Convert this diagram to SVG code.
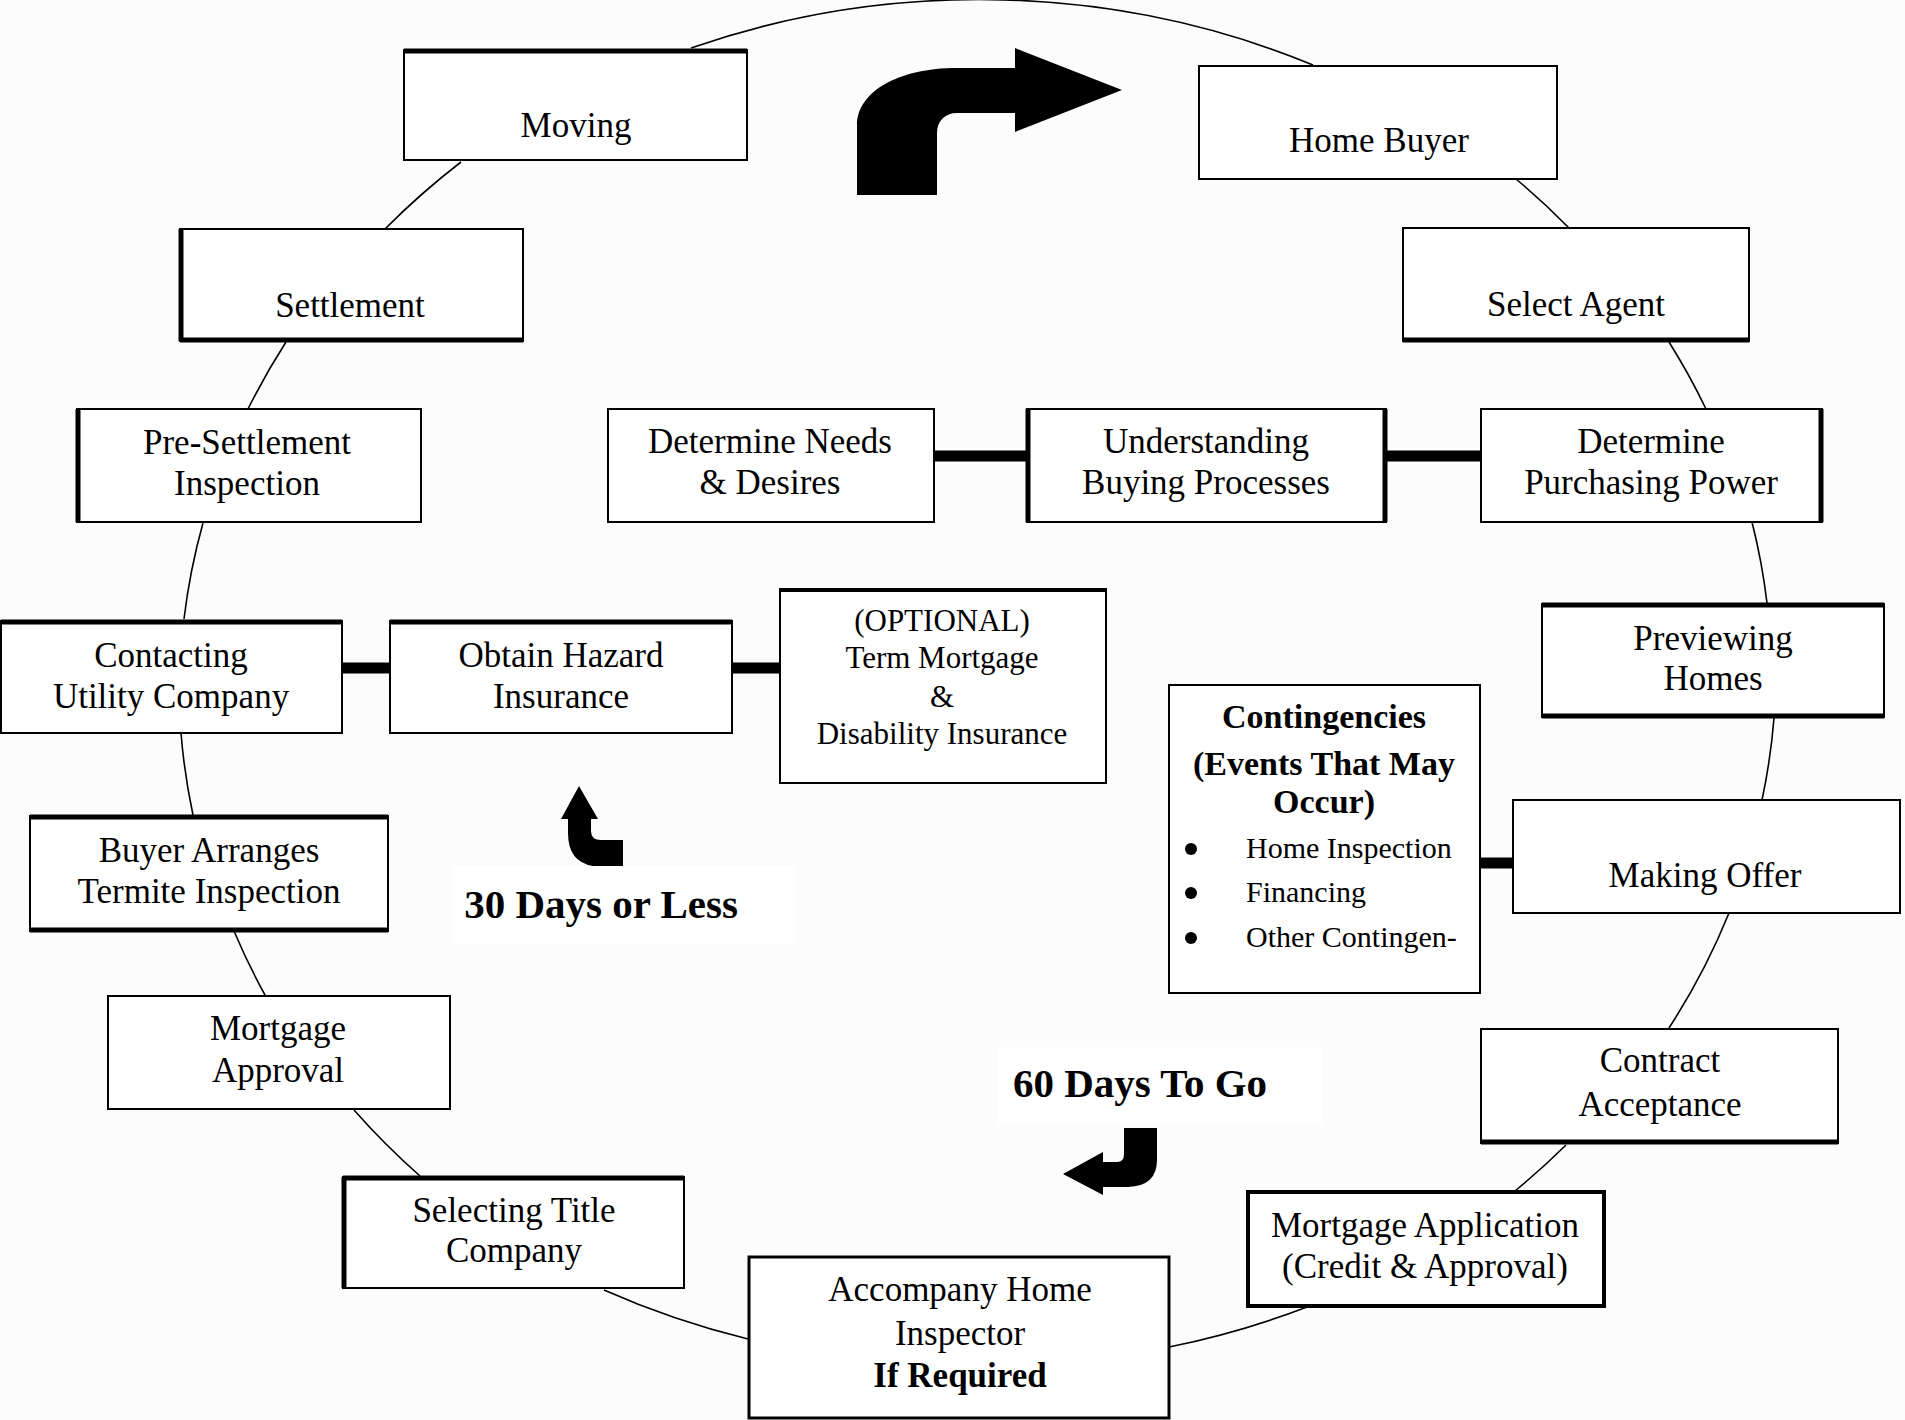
<svg xmlns="http://www.w3.org/2000/svg" width="1905" height="1420" viewBox="0 0 1905 1420">
<style>
.box{fill:#fff;stroke:#000;stroke-width:2}
.thk{stroke:#000;stroke-width:5;fill:none}
.t{font-family:"Liberation Serif","Times New Roman",serif;font-size:35px;text-anchor:middle;fill:#000}
.s{font-size:31px}
.b{font-weight:bold}
.link{fill:none;stroke:#000;stroke-width:1.6}
.bar{fill:none;stroke:#000;stroke-width:11}
.arrow{fill:#000}
</style>
<rect x="0" y="0" width="1905" height="1420" fill="#fcfcfc"/>

<g id="connectors">
<path class="link" d="M691,48 A795,710 0 0,1 1313,65"/>
<path class="link" d="M1516,179 A795,710 0 0,1 1569,228"/>
<path class="link" d="M1669,342 A795,710 0 0,1 1706,409"/>
<path class="link" d="M1752,522 A795,710 0 0,1 1767,603"/>
<path class="link" d="M1774,718 A795,710 0 0,1 1762,800"/>
<path class="link" d="M1729,913 A795,710 0 0,1 1669,1028"/>
<path class="link" d="M1566,1145 A795,710 0 0,1 1515,1191"/>
<path class="link" d="M1307,1307 A795,710 0 0,1 1169,1347"/>
<path class="link" d="M748,1339 A795,710 0 0,1 604,1290"/>
<path class="link" d="M420,1176 A795,710 0 0,1 354,1110"/>
<path class="link" d="M265,995 A795,710 0 0,1 234,931"/>
<path class="link" d="M193,815 A795,710 0 0,1 181,733"/>
<path class="link" d="M184,619 A795,710 0 0,1 203,523"/>
<path class="link" d="M248,409 A795,710 0 0,1 286,342"/>
<path class="link" d="M385,229 A795,710 0 0,1 461,162"/>
<line class="bar" x1="934" y1="456" x2="1027" y2="456"/>
<line class="bar" x1="1386" y1="456" x2="1481" y2="456"/>
<line class="bar" x1="342" y1="668" x2="390" y2="668"/>
<line class="bar" x1="732" y1="668" x2="780" y2="668"/>
<line class="bar" x1="1480" y1="863" x2="1513" y2="863"/>
</g>

<g id="big-arrow">
<path class="arrow" d="M857,195 L857,125 C857,92 898,68 957,68 L1015,68 L1015,48 L1122,90 L1015,132 L1015,113 L957,113 C945,113 937,121 937,133 L937,195 Z"/>
</g>

<g id="label-30">
<rect x="452" y="866" width="344" height="78" fill="#fff"/>
<path class="arrow" d="M579,786 L598,819 L591,819 L591,831 Q591,840 601,840 L623,840 L623,866 L593,866 Q568,862 568,833 L568,819 L561,819 Z"/>
<text class="t b" x="601" y="918" style="font-size:41px">30 Days or Less</text>
</g>

<g id="label-60">
<rect x="998" y="1047" width="324" height="78" fill="#fff"/>
<path class="arrow" d="M1124,1128 L1157,1128 L1157,1160 Q1157,1186 1128,1187 L1103,1187 L1103,1195 L1063,1174 L1103,1152 L1103,1162 L1117,1162 Q1124,1162 1124,1154 Z"/>
<text class="t b" x="1140" y="1097" style="font-size:41px">60 Days To Go</text>
</g>

<g id="moving">
<rect class="box" x="404" y="50" width="343" height="110"/>
<line class="thk" x1="404" y1="51" x2="747" y2="51"/>
<text class="t" x="576" y="137">Moving</text>
</g>

<g id="home-buyer">
<rect class="box" x="1199" y="66" width="358" height="113"/>
<text class="t" x="1379" y="152">Home Buyer</text>
</g>

<g id="settlement">
<rect class="box" x="180" y="229" width="343" height="112"/>
<line class="thk" x1="181" y1="229" x2="181" y2="341"/>
<line class="thk" x1="180" y1="340" x2="523" y2="340"/>
<text class="t" x="350" y="317">Settlement</text>
</g>

<g id="select-agent">
<rect class="box" x="1403" y="228" width="346" height="113"/>
<line class="thk" x1="1403" y1="340" x2="1749" y2="340"/>
<text class="t" x="1576" y="316">Select Agent</text>
</g>

<g id="pre-settlement">
<rect class="box" x="77" y="409" width="344" height="113"/>
<line class="thk" x1="78" y1="409" x2="78" y2="522"/>
<text class="t" x="247" y="454">Pre-Settlement</text>
<text class="t" x="247" y="495">Inspection</text>
</g>

<g id="determine-needs">
<rect class="box" x="608" y="409" width="326" height="113"/>
<text class="t" x="770" y="453">Determine Needs</text>
<text class="t" x="770" y="494">&amp; Desires</text>
</g>

<g id="understanding">
<rect class="box" x="1027" y="409" width="359" height="113"/>
<line class="thk" x1="1028" y1="409" x2="1028" y2="522"/>
<line class="thk" x1="1385" y1="409" x2="1385" y2="522"/>
<text class="t" x="1206" y="453">Understanding</text>
<text class="t" x="1206" y="494">Buying Processes</text>
</g>

<g id="purchasing-power">
<rect class="box" x="1481" y="409" width="341" height="113"/>
<line class="thk" x1="1821" y1="409" x2="1821" y2="522"/>
<text class="t" x="1651" y="453">Determine</text>
<text class="t" x="1651" y="494">Purchasing Power</text>
</g>

<g id="contacting-utility">
<rect class="box" x="1" y="621" width="341" height="112"/>
<line class="thk" x1="1" y1="622" x2="342" y2="622"/>
<text class="t" x="171" y="667">Contacting</text>
<text class="t" x="171" y="708">Utility Company</text>
</g>

<g id="hazard-insurance">
<rect class="box" x="390" y="621" width="342" height="112"/>
<line class="thk" x1="390" y1="622" x2="732" y2="622"/>
<text class="t" x="561" y="667">Obtain Hazard</text>
<text class="t" x="561" y="708">Insurance</text>
</g>

<g id="optional-insurance">
<rect class="box" x="780" y="589" width="326" height="194"/>
<line class="thk" x1="780" y1="590" x2="1106" y2="590" style="stroke-width:4"/>
<text class="t s" x="942" y="631">(OPTIONAL)</text>
<text class="t s" x="942" y="668">Term Mortgage</text>
<text class="t s" x="942" y="707">&amp;</text>
<text class="t s" x="942" y="744">Disability Insurance</text>
</g>

<g id="previewing">
<rect class="box" x="1542" y="604" width="342" height="113"/>
<line class="thk" x1="1542" y1="605" x2="1884" y2="605"/>
<line class="thk" x1="1542" y1="716" x2="1884" y2="716"/>
<text class="t" x="1713" y="650">Previewing</text>
<text class="t" x="1713" y="690">Homes</text>
</g>

<g id="contingencies">
<rect class="box" x="1169" y="685" width="311" height="308"/>
<text class="t b" x="1324" y="728" style="font-size:34px">Contingencies</text>
<text class="t b" x="1324" y="775" style="font-size:34px">(Events That May</text>
<text class="t b" x="1324" y="813" style="font-size:34px">Occur)</text>
<circle cx="1191" cy="849" r="6"/>
<circle cx="1191" cy="893" r="6"/>
<circle cx="1191" cy="938" r="6"/>
<text class="t" x="1246" y="858" style="font-size:30px;text-anchor:start">Home Inspection</text>
<text class="t" x="1246" y="902" style="font-size:30px;text-anchor:start">Financing</text>
<text class="t" x="1246" y="947" style="font-size:30px;text-anchor:start">Other Contingen-</text>
</g>

<g id="making-offer">
<rect class="box" x="1513" y="800" width="387" height="113"/>
<text class="t" x="1705" y="887">Making Offer</text>
</g>

<g id="termite-inspection">
<rect class="box" x="30" y="816" width="358" height="115"/>
<line class="thk" x1="30" y1="817" x2="388" y2="817"/>
<line class="thk" x1="30" y1="930" x2="388" y2="930"/>
<text class="t" x="209" y="862">Buyer Arranges</text>
<text class="t" x="209" y="903">Termite Inspection</text>
</g>

<g id="mortgage-approval">
<rect class="box" x="108" y="996" width="342" height="113"/>
<text class="t" x="278" y="1040">Mortgage</text>
<text class="t" x="278" y="1082">Approval</text>
</g>

<g id="contract-acceptance">
<rect class="box" x="1481" y="1029" width="357" height="114"/>
<line class="thk" x1="1481" y1="1142" x2="1838" y2="1142"/>
<text class="t" x="1660" y="1072">Contract</text>
<text class="t" x="1660" y="1116">Acceptance</text>
</g>

<g id="title-company">
<rect class="box" x="343" y="1177" width="341" height="111"/>
<line class="thk" x1="343" y1="1178" x2="684" y2="1178"/>
<line class="thk" x1="344" y1="1177" x2="344" y2="1288"/>
<text class="t" x="514" y="1222">Selecting Title</text>
<text class="t" x="514" y="1262">Company</text>
</g>

<g id="mortgage-application">
<rect class="box" x="1248" y="1192" width="356" height="114" style="stroke-width:4"/>
<text class="t" x="1425" y="1237">Mortgage Application</text>
<text class="t" x="1425" y="1278">(Credit &amp; Approval)</text>
</g>

<g id="home-inspector">
<rect class="box" x="749" y="1257" width="420" height="161" style="stroke-width:3"/>
<text class="t" x="960" y="1301">Accompany Home</text>
<text class="t" x="960" y="1345">Inspector</text>
<text class="t b" x="960" y="1387">If Required</text>
</g>
</svg>
